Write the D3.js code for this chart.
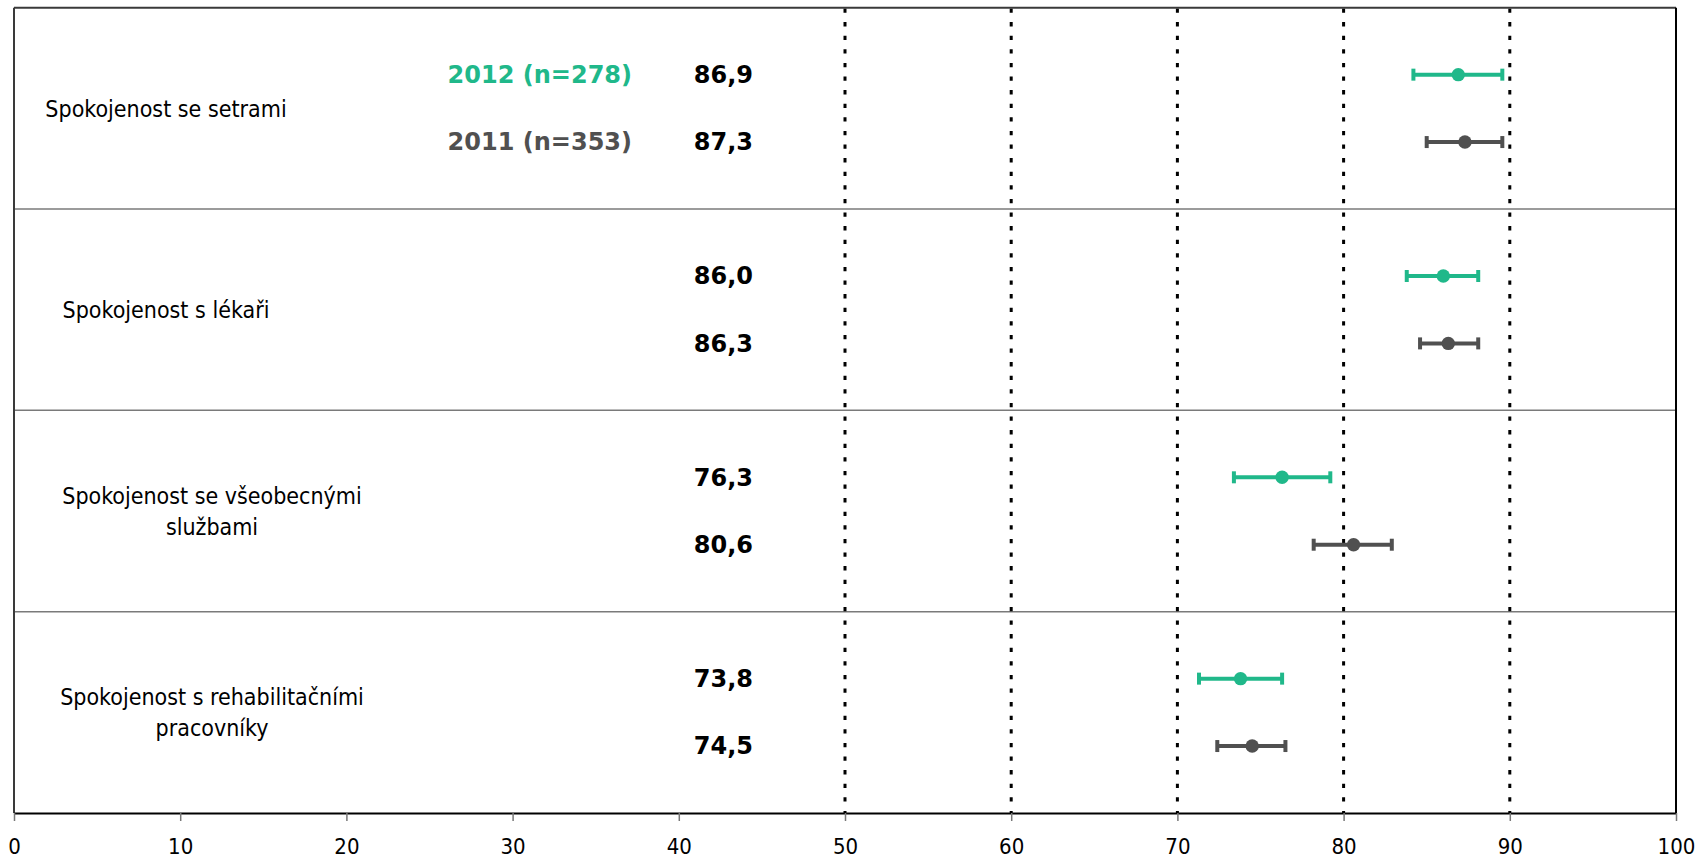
<!DOCTYPE html>
<html>
<head>
<meta charset="utf-8">
<script src="https://cdn.jsdelivr.net/npm/d3@7"></script>
<style>
  html, body { margin: 0; padding: 0; background: #ffffff; }
  svg { display: block; }
</style>
</head>
<body>
<svg id="chart" width="1696" height="860"></svg>
<script>
// ---------------- DATA ----------------
const categories = [
  ["Spokojenost se setrami"],
  ["Spokojenost s lékaři"],
  ["Spokojenost se všeobecnými", "službami"],
  ["Spokojenost s rehabilitačními", "pracovníky"]
];
const seriesNames = ["2012 (n=278)", "2011 (n=353)"];

const mean2012 = [86.9, 86.0, 76.3, 73.8];
const low2012  = [84.2, 83.8, 73.4, 71.3];
const high2012 = [89.55, 88.1, 79.2, 76.3];

const mean2011 = [87.3, 86.3, 80.6, 74.5];
const low2011  = [85.0, 84.6, 78.2, 72.4];
const high2011 = [89.55, 88.1, 82.9, 76.5];

const xTicks = [0, 10, 20, 30, 40, 50, 60, 70, 80, 90, 100];
const refLines = [50, 60, 70, 80, 90];

// ---------------- STYLE ----------------
const seriesColors = ["#20b88a", "#505050"];
const svg = d3.select("#chart");

const plotLeft = 14, plotRight = 1676, plotTop = 7.7, plotBottom = 813;

const x = d3.scaleLinear().domain([0, 100]).range([plotLeft, plotRight]);
const yBand = d3.scaleBand().domain(d3.range(categories.length)).range([plotTop, plotBottom]).padding(0);
const ySeries = d3.scalePoint().domain(seriesNames).range([-33.7, 33.7]);

const rows = categories.map((c, i) => ({
  i, lines: c,
  vals: [
    { s: seriesNames[0], mean: mean2012[i], low: low2012[i], high: high2012[i], color: seriesColors[0] },
    { s: seriesNames[1], mean: mean2011[i], low: low2011[i], high: high2011[i], color: seriesColors[1] }
  ]
}));
const cy = i => yBand(i) + yBand.bandwidth() / 2;

const locale = d3.formatLocale({ decimal: ",", thousands: " ", grouping: [3], currency: ["", ""] });
const fmt = locale.format(".1f");

const condFont = "'DejaVu Sans Condensed', 'DejaVu Sans', sans-serif";

// row separators
svg.append("g").selectAll("line")
  .data(d3.range(1, categories.length))
  .join("line")
  .attr("x1", plotLeft).attr("x2", plotRight)
  .attr("y1", i => yBand(i)).attr("y2", i => yBand(i))
  .attr("stroke", "#7a7a7a").attr("stroke-width", 1.5);

// dotted reference lines
svg.append("g").selectAll("line")
  .data(refLines)
  .join("line")
  .attr("x1", d => x(d)).attr("x2", d => x(d))
  .attr("y1", plotTop).attr("y2", plotBottom)
  .attr("stroke", "#000").attr("stroke-width", 3)
  .attr("stroke-dasharray", "4.3,9.3")
  .attr("stroke-dashoffset", -0.8);

// frame: top, left, right
svg.append("line").attr("x1", plotLeft).attr("x2", plotRight).attr("y1", plotTop).attr("y2", plotTop)
  .attr("stroke", "#3a3a3a").attr("stroke-width", 2);
svg.append("line").attr("x1", plotLeft).attr("x2", plotLeft).attr("y1", plotTop).attr("y2", plotBottom)
  .attr("stroke", "#3a3a3a").attr("stroke-width", 2);
svg.append("line").attr("x1", plotRight).attr("x2", plotRight).attr("y1", plotTop).attr("y2", plotBottom)
  .attr("stroke", "#000").attr("stroke-width", 2);

// x axis
const axis = svg.append("g")
  .attr("transform", `translate(0,${plotBottom})`)
  .call(d3.axisBottom(x).tickValues(xTicks).tickSize(8).tickSizeOuter(0).tickPadding(17).tickFormat(d3.format("d")));
axis.select(".domain").attr("stroke", "#000").attr("stroke-width", 2);
axis.selectAll(".tick line").attr("stroke", "#777").attr("stroke-width", 1.5);
axis.selectAll(".tick text")
  .attr("fill", "#000")
  .style("font-family", condFont)
  .style("font-stretch", "condensed")
  .style("font-size", "22px");

// category labels
const catG = svg.append("g");
rows.forEach(r => {
  const n = r.lines.length;
  const cx = n > 1 ? 212 : 166;
  const t = catG.append("text")
    .attr("text-anchor", "middle")
    .attr("fill", "#000")
    .style("font-family", condFont)
    .style("font-stretch", "condensed")
    .style("font-size", "23px");
  r.lines.forEach((ln, k) => {
    t.append("tspan")
      .attr("x", cx)
      .attr("y", cy(r.i) + (k - (n - 1) / 2) * 31)
      .attr("dy", "0.36em")
      .text(ln);
  });
});

// legend labels (first row only)
svg.append("g").selectAll("text")
  .data(seriesNames)
  .join("text")
  .attr("x", 632)
  .attr("y", s => cy(0) + ySeries(s))
  .attr("dy", "0.35em")
  .attr("text-anchor", "end")
  .attr("fill", (s, k) => seriesColors[k])
  .style("font-family", "'DejaVu Sans', sans-serif")
  .style("font-weight", "bold")
  .style("font-size", "24px")
  .text(s => s);

// value labels and error bars
rows.forEach(r => {
  const g = svg.append("g");
  g.selectAll("text.val")
    .data(r.vals)
    .join("text")
    .attr("class", "val")
    .attr("x", 753)
    .attr("y", d => cy(r.i) + ySeries(d.s))
    .attr("dy", "0.35em")
    .attr("text-anchor", "end")
    .attr("fill", "#000")
    .style("font-family", "'DejaVu Sans', sans-serif")
    .style("font-weight", "bold")
    .style("font-size", "24px")
    .text(d => fmt(d.mean));

  const eb = g.selectAll("g.eb")
    .data(r.vals)
    .join("g")
    .attr("class", "eb")
    .attr("transform", d => `translate(0,${cy(r.i) + ySeries(d.s)})`);
  eb.append("line")
    .attr("x1", d => x(d.low)).attr("x2", d => x(d.high))
    .attr("y1", 0).attr("y2", 0)
    .attr("stroke", d => d.color).attr("stroke-width", 4);
  eb.append("line")
    .attr("x1", d => x(d.low)).attr("x2", d => x(d.low))
    .attr("y1", -6).attr("y2", 6)
    .attr("stroke", d => d.color).attr("stroke-width", 4);
  eb.append("line")
    .attr("x1", d => x(d.high)).attr("x2", d => x(d.high))
    .attr("y1", -6).attr("y2", 6)
    .attr("stroke", d => d.color).attr("stroke-width", 4);
  eb.append("circle")
    .attr("cx", d => x(d.mean)).attr("cy", 0)
    .attr("r", 6.7)
    .attr("fill", d => d.color);
});
</script>
</body>
</html>
